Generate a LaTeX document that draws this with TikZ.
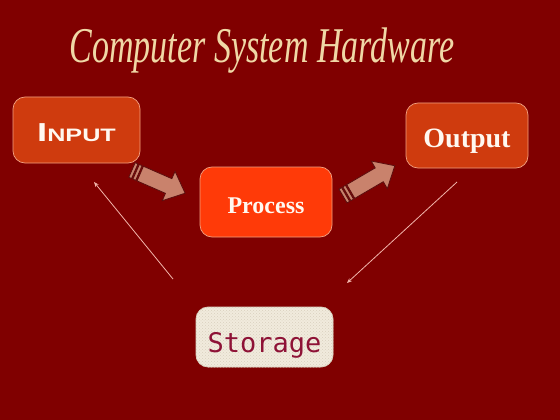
\documentclass[tikz,border=0pt]{standalone}
\usepackage{fontspec}
\setmainfont{Liberation Serif}
\newfontfamily\monofont{DejaVu Sans Mono}
\newfontfamily\sansfnt{Liberation Sans}
\usetikzlibrary{arrows.meta,patterns}
\definecolor{bg}{HTML}{800000}
\definecolor{titlecol}{HTML}{F0D8A6}
\definecolor{boxA}{HTML}{CF3B0E}
\definecolor{boxB}{HTML}{FF3A08}
\definecolor{boxline}{HTML}{F2A080}
\definecolor{storefill}{HTML}{F1EBDD}
\definecolor{storedots}{HTML}{D9D0BE}
\definecolor{storetext}{HTML}{8E1236}
\definecolor{arrfill}{HTML}{C9826C}
\definecolor{arrline}{HTML}{5A0E0E}
\definecolor{thinarr}{HTML}{F2B6AC}
\definecolor{txtw}{HTML}{FFF8F0}
\tikzset{
  hwbox/.style={draw=boxline, line width=0.7pt, rounded corners=12pt, inner sep=0pt},
  boxtext/.style={anchor=base, inner sep=0pt, text=txtw},
  thinlink/.style={draw=thinarr, line width=0.8pt, -{Stealth[length=5pt,width=4pt]}},
  blk/.style={fill=arrfill, draw=arrline, line width=0.8pt, line join=miter}
}
\newcommand{\blockarr}[4]{%
  \begin{scope}[shift={(#1,#2)}, rotate=#3]
    \path[blk] (9,-8) -- (#4-18,-8) -- (#4-18,-16) -- (#4,0) -- (#4-18,16) -- (#4-18,8) -- (9,8) -- cycle;
    \path[blk] (0,-8) rectangle (3,8);
    \path[blk] (4.5,-8) rectangle (7.5,8);
  \end{scope}}
\begin{document}
\begin{tikzpicture}[x=1pt,y=-1pt]
\fill[bg] (0,0) rectangle (560,420);
\useasboundingbox (0,0) rectangle (560,420);

\node[anchor=base, text=titlecol, inner sep=0pt] (title) at (262,63)
  {\fontsize{50}{50}\selectfont\itshape\scalebox{0.68}[1]{Computer System Hardware}};

\node[hwbox, fill=boxA, minimum width=127pt, minimum height=66pt] (input) at (76.5,130) {};
\node[boxtext] (inputlbl) at (76.5,141)
  {\sansfnt\bfseries\scalebox{1.4}[1]{{\fontsize{26}{26}\selectfont I}{\fontsize{18}{18}\selectfont NPUT}}};
\node[hwbox, fill=boxB, minimum width=132pt, minimum height=70pt] (process) at (266,202) {};
\node[boxtext] (processlbl) at (266,213) {\fontsize{24}{24}\selectfont\bfseries Process};
\node[hwbox, fill=boxA, minimum width=122pt, minimum height=65pt] (output) at (467,135.5) {};
\node[boxtext] (outputlbl) at (467,147) {\fontsize{28}{28}\selectfont\bfseries Output};
\node[draw=storedots, line width=0.7pt, rounded corners=12pt, fill=storefill,
      minimum width=137pt, minimum height=60pt, inner sep=0pt] (storage) at (264.5,337) {};
\fill[pattern=crosshatch dots, pattern color=storedots, rounded corners=12pt]
  (storage.south west) rectangle (storage.north east);
\node[anchor=base, text=storetext, inner sep=0pt] (storagelbl) at (264.5,352)
  {\monofont\fontsize{27}{27}\selectfont Storage};

\blockarr{132}{170}{-23.6}{58}
\blockarr{343}{196}{30.3}{60}

\coordinate (s1) at (173,279);
\coordinate (i1) at (94,182);
\coordinate (o1) at (457,182);
\coordinate (s2) at (347,283);
\draw[thinlink] (s1) -- (i1);
\draw[thinlink] (o1) -- (s2);
\end{tikzpicture}
\end{document}
